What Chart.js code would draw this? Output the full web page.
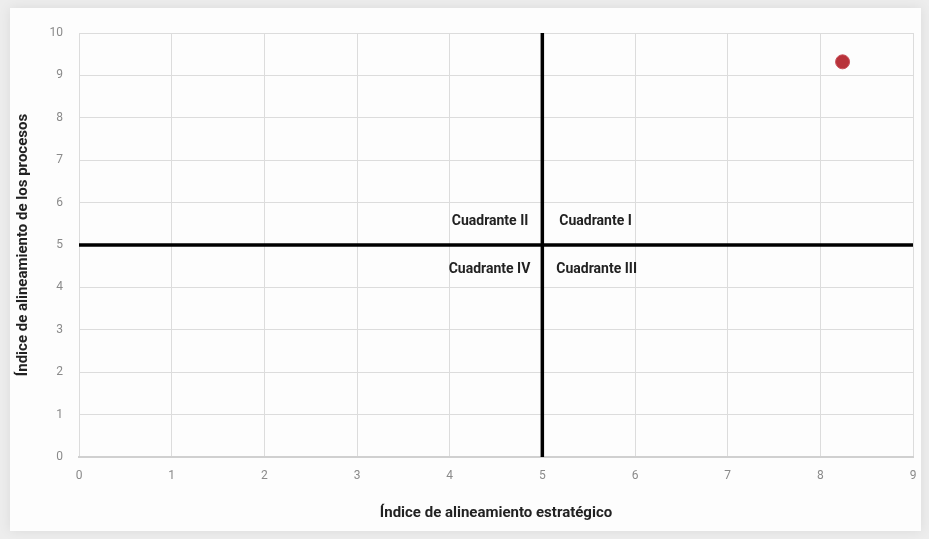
<!DOCTYPE html>
<html>
<head>
<meta charset="utf-8">
<script src="https://cdn.jsdelivr.net/npm/chart.js@4"></script>
<style>
  html, body { margin: 0; padding: 0; background: #efefef; }
  #wrap { width: 929px; height: 539px; }
</style>
</head>
<body>
<div id="wrap"><canvas id="grafico" width="929" height="539"></canvas></div>
<script>
// Datos
const puntoX = [8.24];
const puntoY = [9.32];
const lineaVerticalX = [5, 5];
const lineaVerticalY = [0, 10];
const lineaHorizontalX = [0, 9];
const lineaHorizontalY = [5, 5];
const etiquetasCuadrante = ["Cuadrante I", "Cuadrante II", "Cuadrante III", "Cuadrante IV"];
const tituloX = "Índice de alineamiento estratégico";
const tituloY = "Índice de alineamiento de los procesos";

function pares(xs, ys) {
  return xs.map((x, i) => ({ x: x, y: ys[i] }));
}

// fondo con marco gris suave
const fondo = {
  id: "fondo",
  beforeDraw(chart) {
    const c = chart.ctx;
    c.save();
    c.fillStyle = "#ededed";
    c.fillRect(0, 0, chart.width, chart.height);
    c.shadowColor = "rgba(0,0,0,0.08)";
    c.shadowBlur = 12;
    c.fillStyle = "#fdfdfd";
    c.fillRect(10, 8, chart.width - 18, chart.height - 16);
    c.restore();
  }
};

// textos de los cuadrantes
const cuadrantes = {
  id: "cuadrantes",
  afterDatasetsDraw(chart) {
    const c = chart.ctx;
    const x = chart.scales.x, y = chart.scales.y;
    const cx = x.getPixelForValue(5), cy = y.getPixelForValue(5);
    c.save();
    c.font = "bold 14px 'Liberation Sans Narrow', 'Roboto', sans-serif";
    c.fillStyle = "#222";
    c.textBaseline = "middle";
    c.textAlign = "left";
    c.fillText(etiquetasCuadrante[0], cx + 17, cy - 24);
    c.fillText(etiquetasCuadrante[2], cx + 14, cy + 24);
    c.textAlign = "right";
    c.fillText(etiquetasCuadrante[1], cx - 14, cy - 24);
    c.fillText(etiquetasCuadrante[3], cx - 12, cy + 24);
    c.restore();
  }
};

const ctx = document.getElementById("grafico").getContext("2d");
new Chart(ctx, {
  type: "scatter",
  data: {
    datasets: [
      {
        label: "Vertical",
        data: pares(lineaVerticalX, lineaVerticalY),
        showLine: true,
        borderColor: "#000",
        borderWidth: 3.5,
        pointRadius: 0
      },
      {
        label: "Horizontal",
        data: pares(lineaHorizontalX, lineaHorizontalY),
        showLine: true,
        borderColor: "#000",
        borderWidth: 3.5,
        pointRadius: 0
      },
      {
        label: "Proceso",
        data: pares(puntoX, puntoY),
        backgroundColor: "#b8323a",
        borderColor: "#c9505a",
        borderWidth: 1,
        pointRadius: 7
      }
    ]
  },
  options: {
    responsive: false,
    animation: false,
    layout: { padding: { left: 14, top: 33, right: 16, bottom: 0 } },
    plugins: {
      legend: { display: false },
      tooltip: { enabled: false }
    },
    scales: {
      x: {
        type: "linear",
        min: 0,
        max: 9,
        afterFit(s) { s.height = 82; },
        ticks: {
          stepSize: 1,
          color: "#8a8a8a",
          font: { family: "'Liberation Sans Narrow', 'Roboto', sans-serif", size: 12 },
          padding: 12
        },
        grid: { color: "#dcdcdc", lineWidth: 1, drawTicks: false },
        border: { color: "#d0d0d0", width: 2 },
        title: {
          display: true,
          text: tituloX,
          color: "#222",
          font: { family: "'Liberation Sans Narrow', 'Roboto', sans-serif", size: 15, weight: "bold" },
          padding: { top: 16, bottom: 17 }
        }
      },
      y: {
        type: "linear",
        min: 0,
        max: 10,
        afterFit(s) { s.width = 65; },
        ticks: {
          stepSize: 1,
          color: "#8a8a8a",
          font: { family: "'Liberation Sans Narrow', 'Roboto', sans-serif", size: 12 },
          padding: 16
        },
        grid: { color: "#dcdcdc", lineWidth: 1, drawTicks: false },
        border: { display: false },
        title: {
          display: true,
          text: tituloY,
          color: "#222",
          font: { family: "'Liberation Sans Narrow', 'Roboto', sans-serif", size: 15, weight: "bold" },
          padding: { top: 0, bottom: 0 }
        }
      }
    }
  },
  plugins: [fondo, cuadrantes]
});
</script>
</body>
</html>
